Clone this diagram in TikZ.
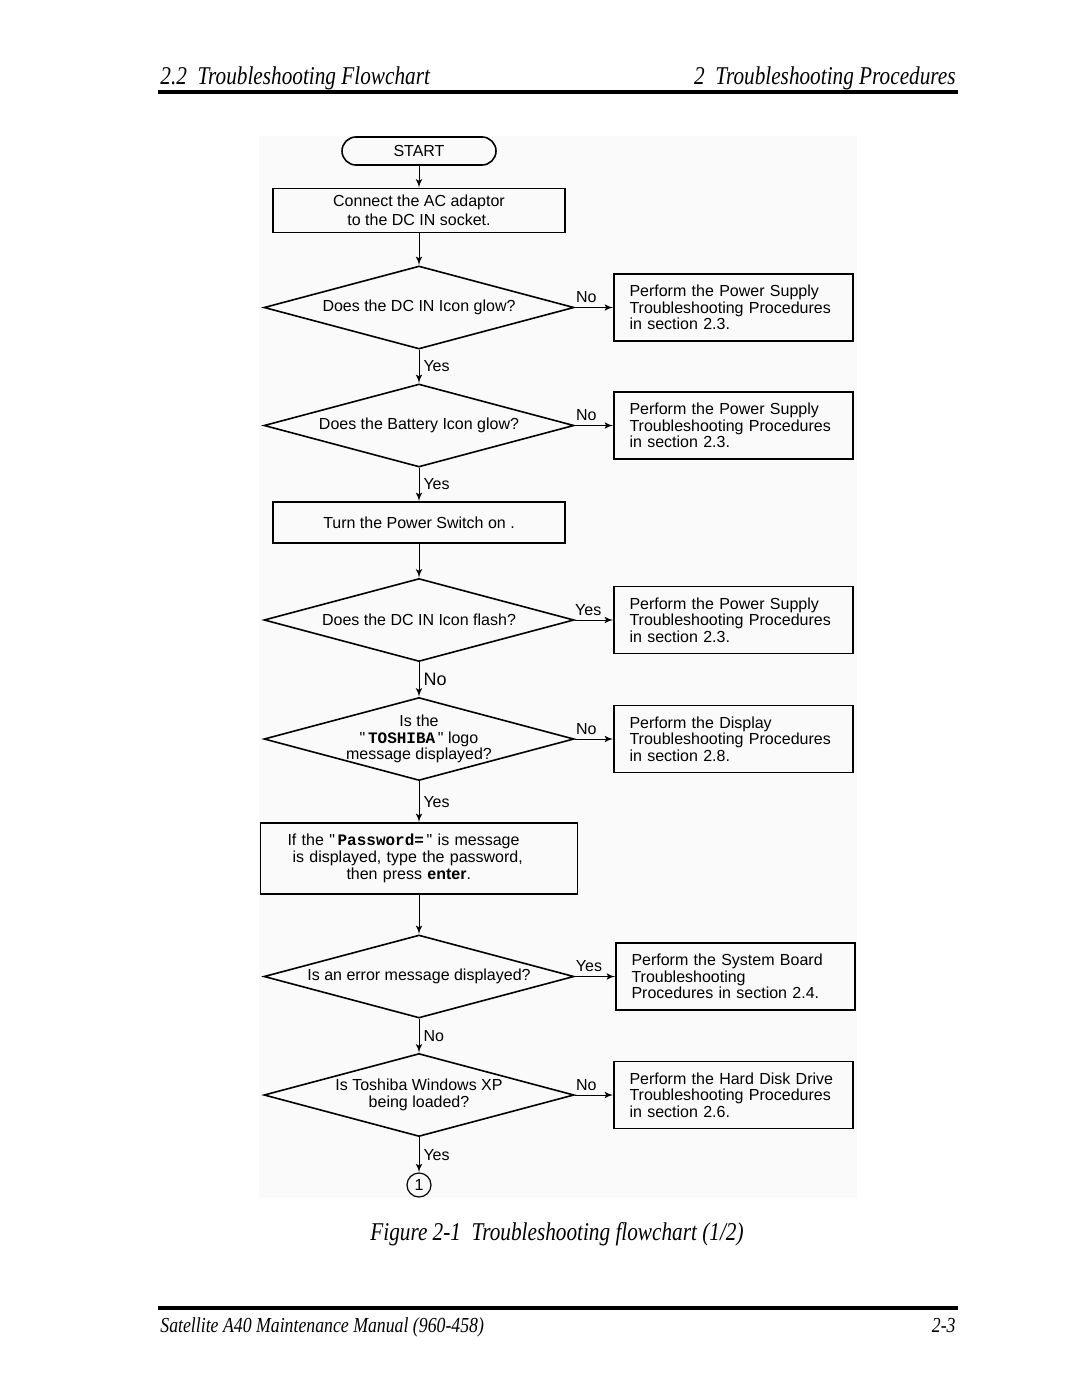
\documentclass[tikz,border=0pt]{standalone}
\usepackage{fontspec}
\setmainfont{Liberation Serif}
\setsansfont{Liberation Sans}
\setmonofont{Liberation Mono}
\newfontfamily\narrowserif[FakeStretch=0.83]{Liberation Serif}
\newfontfamily\plainsans{Liberation Sans}
\newcommand{\dq}{{\plainsans"}}
\usepackage{tikz}
\usetikzlibrary{positioning,arrows,shapes.geometric}
\definecolor{sheet}{HTML}{FAFAFA}

\begin{document}
\begin{tikzpicture}[x=0.5pt,y=-0.5pt,font=\sffamily\fontsize{8pt}{9.5pt}\selectfont]
    \tikzstyle{terminal}=[draw, line width=0.8pt, rounded corners=7pt, minimum width=77pt, minimum height=14pt, inner sep=0pt, on grid]
    \tikzstyle{process}=[draw, line width=0.8pt, minimum width=146pt, minimum height=20.5pt, align=center, on grid]
    \tikzstyle{decision}=[draw, line width=0.8pt, diamond, minimum width=155pt, minimum height=41.5pt, inner xsep=-100pt, inner ysep=-40pt, align=center, font=\sffamily\fontsize{8pt}{8.25pt}\selectfont, on grid]
    \tikzstyle{action}=[draw, line width=0.8pt, text width=104pt, inner xsep=7.75pt, minimum height=33.5pt, align=left, font=\sffamily\fontsize{8pt}{8.25pt}\selectfont, on grid]
    \tikzstyle{joint}=[draw, circle, line width=0.6pt, minimum size=12pt, inner sep=0pt, on grid]
    \tikzstyle{flow}=[line width=0.5pt, -latex']
    \tikzstyle{answer}=[inner sep=2pt]
    \tikzstyle{pagetext}=[inner sep=0pt, font=\narrowserif\itshape\fontsize{12.8pt}{14pt}\selectfont]
    \tikzstyle{foottext}=[inner sep=0pt, font=\narrowserif\itshape\fontsize{10.7pt}{12pt}\selectfont]

    % page
    \path[fill=white] (0,0) rectangle (1080,1397);
    \fill[sheet] (259,136) rectangle (857,1198);
    \node[pagetext, anchor=base west] (chapter) at (160,84) {2.2\ \ Troubleshooting Flowchart};
    \node[pagetext, anchor=base east] (section) at (956,84) {2\ \ Troubleshooting Procedures};
    \draw[line width=1.8pt] (158,92) -- (958,92);
    \node[pagetext, anchor=base] (caption) at (557,1240) {Figure 2-1\ \ Troubleshooting flowchart (1/2)};
    \draw[line width=1.8pt] (158,1308) -- (958,1308);
    \node[foottext, anchor=base west] (manual) at (160,1332) {Satellite A40 Maintenance Manual (960-458)};
    \node[foottext, anchor=base east] (pageno) at (956,1332) {2-3};

    % main column
    \node[terminal] (start) at (419,151) {START};
    \node[process, below=29.75pt of start] (adaptor) {Connect the AC adaptor\\to the DC IN socket.};
    \node[decision, below=48.5pt of adaptor] (dcglow) {Does the DC IN Icon glow?};
    \node[decision, below=59pt of dcglow] (battglow) {Does the Battery Icon glow?};
    \node[process, below=48.5pt of battglow] (switchon) {Turn the Power Switch on .};
    \node[decision, below=48.75pt of switchon] (dcflash) {Does the DC IN Icon flash?};
    \node[decision, below=59.5pt of dcflash] (logo) {Is the\\\dq\,\texttt{\textbf{TOSHIBA}}\,\dq{} logo\\message displayed?};
    \node[process, minimum width=158.5pt, minimum height=35.5pt, text width=131.5pt, inner xsep=13.5pt, align=left, font=\sffamily\fontsize{8pt}{8.5pt}\selectfont, below=59.75pt of logo] (password) {If the \dq\,\texttt{\textbf{Password=}}\,\dq{} is message\\\hspace*{2.5pt}is displayed, type the password,\\\hspace*{29.5pt}then press \textbf{enter}.};
    \node[decision, below=59pt of password] (errmsg) {Is an error message displayed?};
    \node[decision, below=59.25pt of errmsg] (winxp) {Is Toshiba Windows XP\\being loaded?};
    \node[joint, below=45pt of winxp] (next) {1};

    % right column
    \node[action, right=157.25pt of dcglow] (psu1) {Perform the Power Supply\\Troubleshooting Procedures\\in section 2.3.};
    \node[action, right=157.25pt of battglow] (psu2) {Perform the Power Supply\\Troubleshooting Procedures\\in section 2.3.};
    \node[action, right=157.25pt of dcflash] (psu3) {Perform the Power Supply\\Troubleshooting Procedures\\in section 2.3.};
    \node[action, right=157.25pt of logo] (display) {Perform the Display\\Troubleshooting Procedures\\in section 2.8.};
    \node[action, right=158.25pt of errmsg] (board) {Perform the System Board\\Troubleshooting\\Procedures in section 2.4.};
    \node[action, right=157.25pt of winxp] (hdd) {Perform the Hard Disk Drive\\Troubleshooting Procedures\\in section 2.6.};

    \draw[flow] (start) -- (adaptor);
    \draw[flow] (adaptor) -- (dcglow);
    \draw[flow] (dcglow) -- node[answer, right] {Yes} (battglow);
    \draw[flow] (battglow) -- node[answer, right] {Yes} (switchon);
    \draw[flow] (switchon) -- (dcflash);
    \draw[flow] (dcflash) -- node[answer, right, font=\sffamily\fontsize{9pt}{10pt}\selectfont] {No} (logo);
    \draw[flow] (logo) -- node[answer, right] {Yes} (password);
    \draw[flow] (password) -- (errmsg);
    \draw[flow] (errmsg) -- node[answer, right] {No} (winxp);
    \draw[flow] (winxp) -- node[answer, right] {Yes} (next);

    \draw[flow] (dcglow) -- node[answer, above, pos=.3] {No} (psu1);
    \draw[flow] (battglow) -- node[answer, above, pos=.3] {No} (psu2);
    \draw[flow] (dcflash) -- node[answer, above, pos=.35] {Yes} (psu3);
    \draw[flow] (logo) -- node[answer, above, pos=.3] {No} (display);
    \draw[flow] (errmsg) -- node[answer, above, pos=.35] {Yes} (board);
    \draw[flow] (winxp) -- node[answer, above, pos=.3] {No} (hdd);
\end{tikzpicture}
\end{document}
